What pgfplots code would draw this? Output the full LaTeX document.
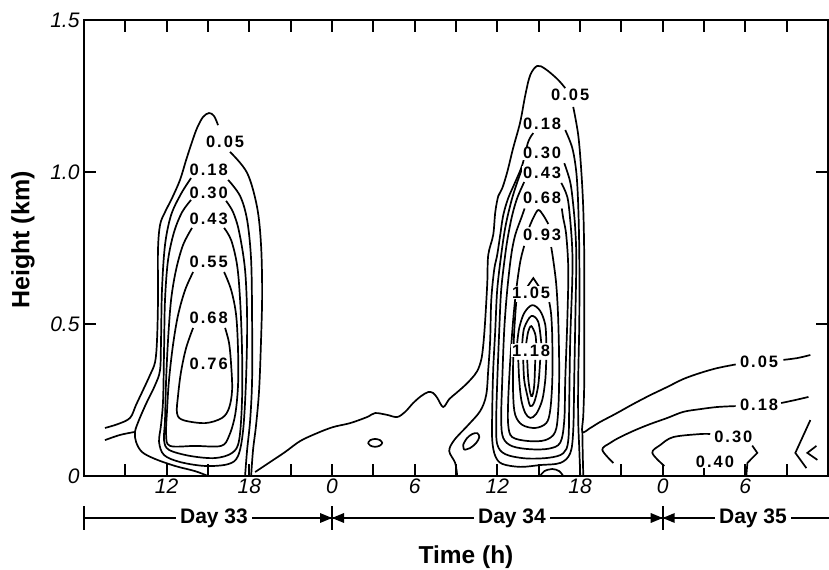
\documentclass[border=0pt]{standalone}
\usepackage{fontspec}
\setmainfont{Liberation Sans}
\usepackage{pgfplots}
\pgfplotsset{compat=1.18}
\newcommand\clab{\fontsize{16.5bp}{16.5bp}\selectfont\bfseries\addfontfeatures{LetterSpace=12}}
\pgfplotsset{ct/.style={black, line width=1.7bp, smooth, tension=0.55, mark=none},
  cs/.style={black, line width=1.7bp, mark=none}}
\tikzset{lab/.style={font=\clab, fill=white, inner sep=0.6bp}}
\begin{document}
\begin{tikzpicture}
\path[use as bounding box] (0bp,0bp) rectangle (829bp,570bp);
\begin{axis}[at={(84bp,94bp)}, anchor=south west, scale only axis,
  width=744bp, height=456bp,
  xmin=6, xmax=60, ymin=0, ymax=1.5,
  xtick={9,12,...,57}, xticklabels={,12,,18,,0,,6,,12,,18,,0,,6,},
  ytick={0,0.5,1,1.5}, yticklabels={0,0.5,1.0,1.5},
  tick align=inside, xtick pos=both, ytick pos=both,
  major tick length=12bp,
  axis line style={line width=1.8bp},
  tick style={line width=1.8bp, black},
  ticklabel style={font=\fontsize{21bp}{21bp}\selectfont\itshape},
  xticklabel style={yshift=1bp},
  yticklabel style={xshift=-1bp},
  /pgf/number format/assume math mode=true,
  clip=true]

% ---------------- Day 33 cloud ----------------
\addplot[ct] coordinates {(7.52,0.158) (8.47,0.171) (9.34,0.191) (9.78,0.234) (10.29,0.283) (10.79,0.332) (11.16,0.375) (11.30,0.447) (11.37,0.579) (11.37,0.743) (11.52,0.826) (11.88,0.868) (12.39,0.914) (12.97,0.974) (13.41,1.039) (13.84,1.099) (14.21,1.145) (14.64,1.181) (15.08,1.194) (15.44,1.184) (15.73,1.154)};
\addplot[ct] coordinates {(16.60,1.066) (17.84,0.997) (18.56,0.885) (18.85,0.760) (18.93,0.602) (18.85,0.447) (18.71,0.283) (18.49,0.168) (18.27,0.086) (18.13,0)};
\addplot[ct] coordinates {(13.77,0.980) (13.04,0.928) (12.32,0.858) (11.88,0.760) (11.66,0.612) (11.59,0.447) (11.52,0.349) (11.16,0.299) (10.50,0.237) (9.99,0.184) (9.70,0.145) (9.78,0.112) (10.21,0.079) (11.16,0.056) (12.61,0.033) (14.06,0.016) (15.00,0)};
\addplot[ct] coordinates {(7.52,0.118) (8.61,0.135) (9.70,0.145)};
\addplot[ct] coordinates {(16.46,0.974) (17.33,0.921) (17.84,0.842) (18.13,0.710) (18.20,0.513) (18.20,0.316) (18.06,0.184) (17.84,0.086) (17.69,0)};
\addplot[ct] coordinates {(13.77,0.908) (13.12,0.868) (12.54,0.803) (12.10,0.710) (11.88,0.579) (11.81,0.414) (11.74,0.250) (11.59,0.168) (11.45,0.112) (11.81,0.069) (12.97,0.046) (14.79,0.033) (16.46,0.039) (17.18,0.066) (17.55,0.151) (17.76,0.316) (17.84,0.513) (17.69,0.678) (17.26,0.803) (16.82,0.868) (16.31,0.905)};
\addplot[ct] coordinates {(13.84,0.816) (13.19,0.760) (12.68,0.678) (12.32,0.579) (12.10,0.447) (11.96,0.316) (11.88,0.184) (11.81,0.118) (12.17,0.086) (13.70,0.066) (15.51,0.059) (16.75,0.076) (17.26,0.118) (17.47,0.250) (17.47,0.414) (17.33,0.579) (17.11,0.694) (16.68,0.776) (16.17,0.816)};
\addplot[ct] coordinates {(13.92,0.671) (13.34,0.612) (12.83,0.530) (12.46,0.431) (12.17,0.316) (12.03,0.217) (11.96,0.135) (12.25,0.099) (14.06,0.099) (15.95,0.099) (16.53,0.132) (16.97,0.201) (17.18,0.299) (17.18,0.414) (17.04,0.530) (16.68,0.612) (16.17,0.671)};
\addplot[ct] coordinates {(13.92,0.487) (13.41,0.421) (13.04,0.342) (12.83,0.266) (12.75,0.207) (13.19,0.184) (14.79,0.174) (16.02,0.191) (16.53,0.224) (16.75,0.283) (16.68,0.365) (16.53,0.437) (16.24,0.487)};

% ---------------- 0.05 link, Day 34 cloud outline, Day 35 ----------------
\addplot[ct] coordinates {(18.42,0.013) (19.51,0.046) (20.60,0.079) (21.69,0.115) (22.92,0.141) (24.08,0.161) (25.32,0.174) (26.55,0.194) (27.13,0.207) (28.00,0.201) (28.73,0.194) (29.31,0.211) (29.89,0.240) (30.47,0.263) (30.98,0.276) (31.34,0.273) (31.64,0.257) (32.07,0.227) (32.51,0.253) (33.02,0.273) (33.60,0.296) (34.10,0.319) (34.54,0.345) (34.83,0.382) (34.98,0.431) (35.12,0.513) (35.27,0.635) (35.34,0.727) (35.70,0.793) (35.85,0.868) (36.07,0.921) (36.36,0.947) (36.72,1.000) (37.15,1.079) (37.66,1.164) (38.03,1.253) (38.39,1.319) (38.90,1.349) (39.48,1.339) (40.35,1.306) (40.93,1.276)};
\addplot[ct] coordinates {(41.51,1.214) (41.87,1.122) (42.09,1.006) (42.24,0.875) (42.31,0.710) (42.31,0.513) (42.31,0.316) (42.24,0.201) (42.17,0.145) (42.75,0.158) (43.47,0.178) (44.56,0.204) (45.87,0.237) (47.10,0.266) (48.34,0.293) (49.50,0.319) (50.73,0.339) (51.97,0.355) (53.30,0.367)};
\addplot[ct] coordinates {(56.76,0.382) (57.78,0.388) (58.72,0.398)};
\addplot[ct] coordinates {(42.17,0.145) (42.20,0.07) (42.24,0)};
\addplot[ct] coordinates {(26.62,0.109) (26.78,0.118) (27.13,0.122) (27.48,0.118) (27.64,0.109) (27.48,0.100) (27.13,0.096) (26.78,0.100) (26.62,0.109)};
\addplot[ct] coordinates {(33.60,0.086) (33.52,0.102) (33.81,0.125) (34.18,0.138) (34.54,0.141) (34.69,0.128) (34.47,0.109) (34.03,0.092) (33.60,0.086)};

% 0.18
\addplot[ct] coordinates {(33.09,0) (32.94,0.043) (32.51,0.082) (32.87,0.118) (33.89,0.168) (34.76,0.214) (35.19,0.266) (35.34,0.349) (35.48,0.447) (35.56,0.579) (35.77,0.678) (35.99,0.727) (36.21,0.793) (36.43,0.858) (36.79,0.914) (37.30,0.967) (37.81,1.023) (38.24,1.099) (38.61,1.128)};
\addplot[ct] coordinates {(40.93,1.138) (41.44,1.079) (41.73,1.000) (41.87,0.891) (41.95,0.727) (41.95,0.513) (41.87,0.316) (41.87,0.184) (41.95,0.086) (42.02,0)};
% 0.30
\addplot[ct] coordinates {(37.81,1.013) (37.30,0.947) (36.94,0.891) (36.57,0.816) (36.28,0.727) (35.99,0.612) (35.85,0.480) (35.70,0.349) (35.63,0.217) (35.63,0.118) (35.85,0.066) (36.35,0.040) (37.66,0.030) (39.11,0.036) (40.57,0.043) (41.29,0.075) (41.51,0.151) (41.58,0.316) (41.66,0.513) (41.73,0.710) (41.66,0.809) (41.51,0.891) (41.29,0.967) (40.86,1.029)};
% 0.43
\addplot[ct] coordinates {(37.95,0.967) (37.44,0.914) (37.08,0.858) (36.79,0.793) (36.57,0.727) (36.28,0.612) (36.14,0.480) (35.99,0.306) (35.92,0.184) (35.99,0.105) (36.57,0.072) (38.03,0.058) (39.74,0.060) (40.79,0.075) (41.15,0.118) (41.22,0.250) (41.29,0.447) (41.44,0.645) (41.44,0.743) (41.29,0.842) (41.08,0.918) (40.64,0.964)};
% 0.68
\addplot[ct] coordinates {(37.98,0.880) (37.74,0.849) (37.30,0.793) (37.01,0.727) (36.72,0.612) (36.50,0.480) (36.35,0.306) (36.28,0.184) (36.43,0.125) (37.08,0.098) (38.39,0.088) (39.74,0.090) (40.57,0.110) (40.86,0.184) (40.93,0.316) (41.08,0.513) (41.15,0.678) (41.00,0.793) (40.78,0.849) (40.68,0.880)};
% 0.93
\addplot[ct] coordinates {(38.32,0.819) (38.61,0.849) (38.97,0.875) (39.33,0.858) (39.70,0.829)};
\addplot[ct] coordinates {(37.95,0.757) (37.66,0.704) (37.37,0.612) (37.15,0.513) (36.94,0.382) (36.79,0.250) (36.79,0.168) (37.08,0.128) (38.24,0.115) (39.48,0.118) (40.20,0.145) (40.42,0.217) (40.49,0.349) (40.42,0.513) (40.28,0.628) (40.06,0.710) (39.91,0.753)};
% 1.05
\addplot[cs] coordinates {(38.17,0.622) (38.61,0.651) (39.04,0.622)};
\addplot[ct] coordinates {(37.37,0.572) (37.23,0.480) (37.15,0.382) (37.15,0.266) (37.30,0.201) (37.81,0.168) (38.75,0.158) (39.55,0.174) (39.84,0.217) (39.99,0.316) (39.99,0.447) (39.91,0.530) (39.77,0.572)};
% 1.18 core
\addplot[ct] coordinates {(37.44,0.437) (37.59,0.487) (37.95,0.536) (38.53,0.562) (39.11,0.543) (39.48,0.497) (39.55,0.437)};
\addplot[ct] coordinates {(37.52,0.382) (37.59,0.316) (37.74,0.250) (38.03,0.207) (38.39,0.191) (38.82,0.204) (39.26,0.250) (39.48,0.316) (39.55,0.382)};
\addplot[ct] coordinates {(37.81,0.437) (37.95,0.487) (38.46,0.526) (38.97,0.507) (39.19,0.437)};
\addplot[ct] coordinates {(37.88,0.382) (37.95,0.316) (38.17,0.266) (38.39,0.230) (38.68,0.243) (38.97,0.299) (39.11,0.382)};
\addplot[ct] coordinates {(38.10,0.437) (38.24,0.475) (38.46,0.493) (38.75,0.467) (38.82,0.437)};
\addplot[ct] coordinates {(38.17,0.382) (38.24,0.322) (38.39,0.273) (38.53,0.263) (38.68,0.299) (38.75,0.382)};
% dome
\addplot[ct] coordinates {(39.11,0) (39.41,0.016) (39.99,0.023) (40.49,0.016) (40.78,0)};

% ---------------- Day 35 ----------------
\addplot[ct] coordinates {(44.42,0.043) (43.62,0.086) (44.20,0.109) (44.92,0.128) (46.01,0.151) (47.10,0.171) (48.34,0.191) (49.50,0.211) (50.73,0.220) (51.97,0.227) (53.30,0.230)};
\addplot[ct] coordinates {(56.60,0.240) (57.63,0.250) (58.58,0.260)};
\addplot[ct] coordinates {(48.12,0.033) (47.25,0.076) (47.83,0.102) (48.77,0.128) (50.73,0.138) (51.45,0.138)};
\addplot[cs] coordinates {(54.50,0.100) (54.87,0.076) (54.15,0.043) (54.07,0)};
\addplot[cs] coordinates {(58.72,0.184) (57.63,0.076) (58.43,0.026)};
\addplot[cs] coordinates {(59.16,0.099) (58.50,0.076) (59.23,0.053)};

% labels
\node[lab] at (axis cs:16.24,1.099) {0.05};
\node[lab] at (axis cs:15.05,1.006) {0.18};
\node[lab] at (axis cs:15.05,0.931) {0.30};
\node[lab] at (axis cs:15.05,0.845) {0.43};
\node[lab] at (axis cs:15.05,0.704) {0.55};
\node[lab] at (axis cs:15.05,0.520) {0.68};
\node[lab] at (axis cs:15.05,0.368) {0.76};
\node[lab] at (axis cs:41.29,1.253) {0.05};
\node[lab] at (axis cs:39.25,1.160) {0.18};
\node[lab] at (axis cs:39.25,1.062) {0.30};
\node[lab] at (axis cs:39.25,0.997) {0.43};
\node[lab] at (axis cs:39.25,0.914) {0.68};
\node[lab] at (axis cs:39.25,0.793) {0.93};
\node[lab] at (axis cs:38.45,0.603) {1.05};
\node[lab] at (axis cs:38.45,0.412) {1.18};
\node[lab] at (axis cs:55.0,0.375) {0.05};
\node[lab] at (axis cs:55.0,0.234) {0.18};
\node[lab] at (axis cs:53.13,0.128) {0.30};
\node[lab] at (axis cs:51.8,0.046) {0.40};
\end{axis}

% day bar
\draw[line width=1.5bp] (84bp,52bp) -- (829bp,52bp);
\foreach \xx in {84,332,662.7} {\draw[line width=1.8bp] (\xx bp,40bp) -- (\xx bp,64bp);}
\foreach \xx in {332,662.7} {
  \fill (\xx bp,52bp) -- ++(-12bp,5bp) -- ++(0bp,-10bp) -- cycle;
  \fill (\xx bp,52bp) -- ++(12bp,5bp) -- ++(0bp,-10bp) -- cycle;
}
\node[fill=white, inner xsep=4bp, font=\fontsize{21bp}{21bp}\selectfont\bfseries] at (214bp,52bp) {Day 33};
\node[fill=white, inner xsep=4bp, font=\fontsize{21bp}{21bp}\selectfont\bfseries] at (512bp,52bp) {Day 34};
\node[fill=white, inner xsep=4bp, font=\fontsize{21bp}{21bp}\selectfont\bfseries] at (753bp,52bp) {Day 35};
\node[font=\fontsize{24.5bp}{24.5bp}\selectfont\bfseries] at (466bp,13bp) {Time (h)};
\node[rotate=90, font=\fontsize{25bp}{25bp}\selectfont\bfseries] at (23bp,330bp) {Height (km)};
\end{tikzpicture}
\end{document}
